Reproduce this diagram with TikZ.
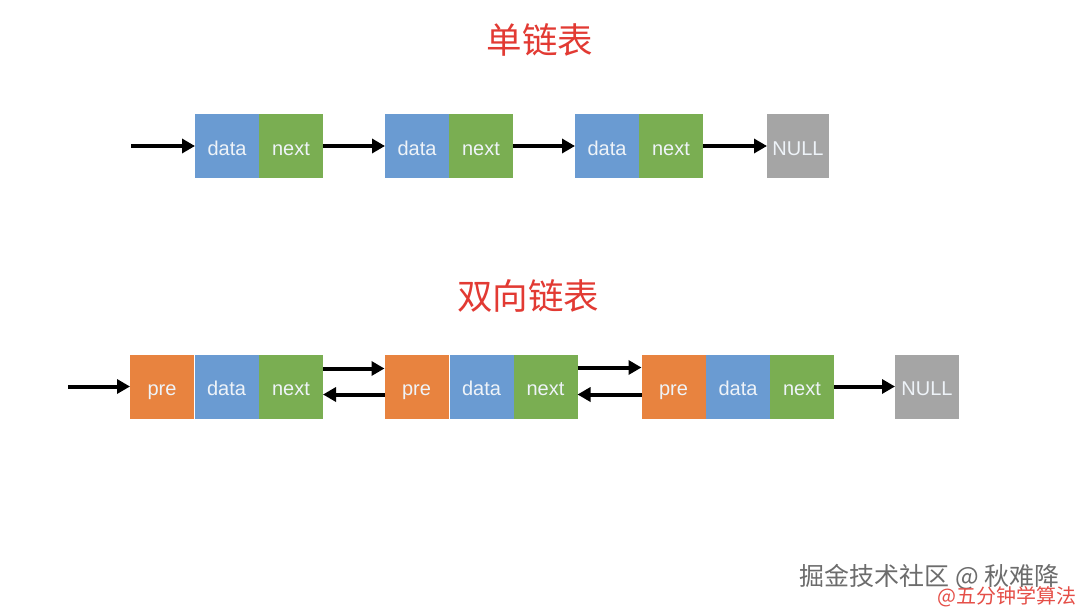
\documentclass[tikz,border=0pt]{standalone}
\usepackage{fontspec}
\setmainfont{Liberation Sans}
\newfontfamily\cjk{Noto Sans CJK SC}
\usetikzlibrary{arrows.meta}
\definecolor{cblue}{HTML}{6A9BD2}
\definecolor{cgreen}{HTML}{7AAE52}
\definecolor{corange}{HTML}{E8833F}
\definecolor{cgray}{HTML}{A5A5A5}
\definecolor{cred}{HTML}{E23A33}
\definecolor{ctext}{HTML}{EEF3F8}
\tikzset{
  cell/.style={minimum width=64pt,minimum height=64pt,inner sep=0pt,outer sep=0pt,text height=19pt,text depth=1pt,text=ctext,font=\fontsize{20}{20}\selectfont},
  datacell/.style={cell,fill=cblue},
  nextcell/.style={cell,fill=cgreen},
  precell/.style={cell,fill=corange},
  nullcell/.style={cell,fill=cgray,minimum width=62pt},
  link/.style={line width=4pt,-{Triangle[length=13pt,width=14pt]}},
  title/.style={text=cred,font=\cjk\fontsize{35.5}{35.5}\selectfont},
}
\begin{document}
\begin{tikzpicture}[x=1pt,y=-1pt]
\useasboundingbox[fill=white] (0,0) rectangle (1080,610);
\node[title] (t1) at (540,40) {单链表};
\node[title] (t2) at (528,296) {双向链表};
% single list
\coordinate (s0) at (131,146);
\node[datacell] (d1) at (227,146) {data};
\node[nextcell] (n1) at (291,146) {next};
\node[datacell] (d2) at (417,146) {data};
\node[nextcell] (n2) at (481,146) {next};
\node[datacell] (d3) at (607,146) {data};
\node[nextcell] (n3) at (671,146) {next};
\node[nullcell] (null1) at (798,146) {NULL};
\draw[link] (s0) -- (d1.west);
\draw[link] (n1.east) -- (d2.west);
\draw[link] (n2.east) -- (d3.west);
\draw[link] (n3.east) -- (null1.west);
% double list
\coordinate (b0) at (68,386.5);
\node[precell] (p1) at (162,386.5) {pre};
\node[datacell] (e1) at (226.5,386.5) {data};
\node[nextcell] (m1) at (291,386.5) {next};
\node[precell] (p2) at (416.5,386.5) {pre};
\node[datacell] (e2) at (481.5,386.5) {data};
\node[nextcell] (m2) at (545.5,386.5) {next};
\node[precell] (p3) at (673.5,386.5) {pre};
\node[datacell] (e3) at (738,386.5) {data};
\node[nextcell] (m3) at (802,386.5) {next};
\node[nullcell,minimum width=64pt] (null2) at (927,386.5) {NULL};
\draw[link] (b0) -- (p1.west);
\draw[link] ([yshift=18pt]m1.east) -- ([yshift=18pt]p2.west);
\draw[link] ([yshift=-8pt]p2.west) -- ([yshift=-8pt]m1.east);
\draw[link] ([yshift=19pt]m2.east) -- ([yshift=19pt]p3.west);
\draw[link] ([yshift=-8pt]p3.west) -- ([yshift=-8pt]m2.east);
\draw[link] (m3.east) -- (null2.west);
% watermark
\node[anchor=east,text=gray!85!black,font=\cjk\fontsize{25}{25}\selectfont] (w1) at (1063,577) {掘金技术社区 @ 秋难降};
\node[anchor=east,text=cred!90,font=\cjk\fontsize{20}{20}\selectfont] (w2) at (1080,597) {@五分钟学算法};
\end{tikzpicture}
\end{document}
